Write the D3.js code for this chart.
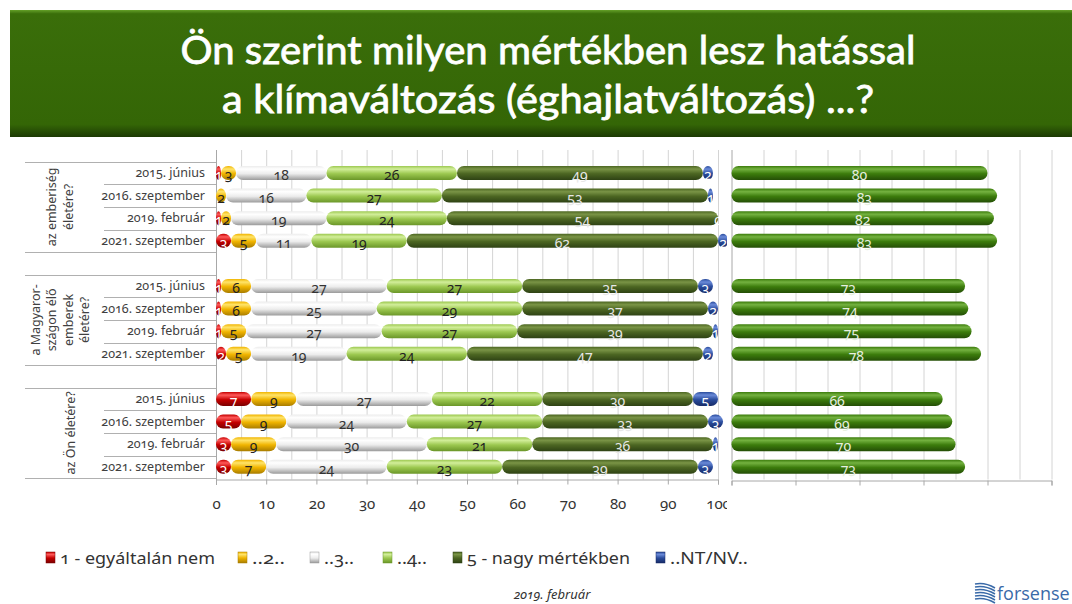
<!DOCTYPE html>
<html><head><meta charset="utf-8">
<script src="https://cdn.jsdelivr.net/npm/d3@7"></script>
<style>
html,body{margin:0;padding:0;background:#fff;}
svg{display:block;font-family:"Noto Sans","Open Sans",sans-serif;font-variant-numeric:oldstyle-nums;}
</style></head><body>
<svg id="c" width="1072" height="604"></svg>
<script>
const titleLines = ["Ön szerint milyen mértékben lesz hatással", "a klímaváltozás (éghajlatváltozás) ...?"];
const groupLabelLines = [["az emberiség","életére?"],["a Magyaror-","szágon élő","emberek","életére?"],["az Ön életére?"]];
const waves = ["2015. június","2016. szeptember","2019. február","2021. szeptember"];
const seriesNames = ["1 - egyáltalán nem","..2..","..3..","..4..","5 - nagy mértékben","..NT/NV.."];
const v1  = [1,0,1,3, 1,1,1,2, 7,5,3,3];
const v2  = [3,2,2,5, 6,6,5,5, 9,9,9,7];
const v3  = [18,16,19,11, 27,25,27,19, 27,24,30,24];
const v4  = [26,27,24,19, 27,29,27,24, 22,27,21,23];
const v5  = [49,53,54,62, 35,37,39,47, 30,33,36,39];
const vNT = [2,1,0,2, 3,2,1,2, 5,3,1,3];
const total45 = [80,83,82,83, 73,74,75,78, 66,69,70,73];
const xTicks = [0,10,20,30,40,50,60,70,80,90,100];
const footerText = "2019. február";

const seriesValues = [v1,v2,v3,v4,v5,vNT];
const colors = [
  {base:"#c40000",hi:"#ff5a5a",dark:"#7a0000",txt:"#ffffff"},
  {base:"#f0b400",hi:"#ffe46a",dark:"#a87c00",txt:"#222"},
  {base:"#ececec",hi:"#ffffff",dark:"#9a9a9a",txt:"#333"},
  {base:"#9cc850",hi:"#d2ee9a",dark:"#6a9628",txt:"#222"},
  {base:"#4c6622",hi:"#7a9446",dark:"#2e4214",txt:"#e8e8e8"},
  {base:"#2a4c9c",hi:"#6a8ad8",dark:"#162a66",txt:"#ffffff"}
];
const rightColor = {base:"#3c7c0c",hi:"#74b240",dark:"#244e06",txt:"#e8f0e0"};

const svg = d3.select("#c");
const defs = svg.append("defs");
function grad(id,c){
  const g = defs.append("linearGradient").attr("id",id).attr("x1",0).attr("y1",0).attr("x2",0).attr("y2",1);
  g.append("stop").attr("offset","0%").attr("stop-color",c.base);
  g.append("stop").attr("offset","22%").attr("stop-color",c.hi);
  g.append("stop").attr("offset","55%").attr("stop-color",c.base);
  g.append("stop").attr("offset","100%").attr("stop-color",c.dark);
}
colors.forEach((c,i)=>grad("g"+i,c));
grad("gr",rightColor);
const bg = defs.append("linearGradient").attr("id","banner").attr("x1",0).attr("y1",0).attr("x2",0).attr("y2",1);
bg.append("stop").attr("offset","0%").attr("stop-color","#64a028");
bg.append("stop").attr("offset","3%").attr("stop-color","#3a6e0a");
bg.append("stop").attr("offset","90%").attr("stop-color","#346606");
bg.append("stop").attr("offset","100%").attr("stop-color","#1c3a04");

// Banner
svg.append("rect").attr("x",10).attr("y",10).attr("width",1070).attr("height",127).attr("fill","url(#banner)");
const tl = [{t:titleLines[0],y:64,w:735},{t:titleLines[1],y:113,w:652}];
tl.forEach(d=>{
  svg.append("text").attr("x",548).attr("y",d.y).attr("text-anchor","middle")
    .attr("fill","#fff").attr("stroke","#fff").attr("stroke-width",0.8)
    .attr("font-family","Lato, 'Open Sans', sans-serif").attr("font-size",39)
    .attr("textLength",d.w).attr("lengthAdjust","spacingAndGlyphs")
    .style("font-variant-numeric","normal").text(d.t);
});

// Scales
const slots = d3.range(14).map(String);
const y = d3.scaleBand().domain(slots).range([161.7,478.1]).padding(0);
const slotOf = (k)=> String(Math.floor(k/4)*5 + (k%4));
const xL = d3.scaleLinear().domain([0,100]).range([216,718]);
const xR = d3.scaleLinear().domain([0,100]).range([731.5,1051.5]);
const barH = 14;
const gridTop = 150, axisY = 479.5;

// Left gridlines every 5
const gl = svg.append("g");
gl.selectAll("line").data(d3.range(5,101,5)).join("line")
  .attr("x1",d=>xL(d)+0.5).attr("x2",d=>xL(d)+0.5).attr("y1",gridTop).attr("y2",axisY)
  .attr("stroke","#d4d4d4").attr("stroke-width",1);

// Left axis bottom
const axL = svg.append("g").attr("transform",`translate(0,${axisY})`)
  .call(d3.axisBottom(xL).tickValues(xTicks).tickSize(5).tickPadding(14).tickFormat(d3.format("d")));
axL.select(".domain").attr("stroke","#a8a8a8");
axL.selectAll(".tick line").attr("stroke","#a8a8a8");
axL.selectAll(".tick text").attr("fill","#333").attr("font-size",15)
  .attr("font-family","'Noto Sans',sans-serif");

// vertical axis line
svg.append("line").attr("x1",216.5).attr("x2",216.5).attr("y1",gridTop).attr("y2",485).attr("stroke","#a8a8a8");

// Table lines
const tbl = svg.append("g").attr("stroke","#b0b0b0").attr("stroke-width",1);
for(let g=0; g<3; g++){
  const top = y(String(g*5)), bot = y(String(g*5+3))+y.bandwidth();
  tbl.append("line").attr("x1",25).attr("x2",216).attr("y1",Math.round(top)+0.5).attr("y2",Math.round(top)+0.5);
  tbl.append("line").attr("x1",25).attr("x2",216).attr("y1",Math.round(bot)+0.5).attr("y2",Math.round(bot)+0.5);
  for(let i=1;i<4;i++){
    const yy = Math.round(y(String(g*5+i)))+0.5;
    tbl.append("line").attr("x1",104).attr("x2",216).attr("y1",yy).attr("y2",yy);
  }
}

// Row labels
const rows = d3.range(12);
svg.append("g").selectAll("text").data(rows).join("text")
  .attr("x",205).attr("y",k=>y(slotOf(k))+y.bandwidth()/2+4)
  .attr("text-anchor","end").attr("fill","#404040").attr("font-size",12.5)
  .text(k=>waves[k%4]);

// Group labels (rotated)
groupLabelLines.forEach((lines,g)=>{
  const cy = (y(String(g*5)) + y(String(g*5+3))+y.bandwidth())/2;
  const n = lines.length;
  const cx = g===2 ? 70 : 60;
  const gg = svg.append("g").attr("transform",`translate(${cx},${cy}) rotate(-90)`);
  lines.forEach((ln,i)=>{
    gg.append("text").attr("x",0).attr("y",(i-(n-1)/2)*16.5+4.5).attr("text-anchor","middle")
      .attr("fill","#404040").attr("font-size",12.5).text(ln);
  });
});

// Stacked bars
const stackData = rows.map(k=>{
  let acc=0;
  return seriesValues.map((sv,s)=>{const o={k,s,v:sv[k],x0:acc}; acc+=sv[k]; return o;});
}).flat();
const bars = svg.append("g");
bars.selectAll("rect").data(stackData.filter(d=>d.v>0)).join("rect")
  .attr("x",d=>xL(d.x0)).attr("width",d=>xL(d.x0+d.v)-xL(d.x0))
  .attr("y",d=>y(slotOf(d.k))+(y.bandwidth()-barH)/2).attr("height",barH)
  .attr("rx",d=>Math.min(barH/2,(xL(d.x0+d.v)-xL(d.x0))/2)).attr("ry",barH/2)
  .attr("fill",d=>`url(#g${d.s})`);
bars.selectAll("text").data(stackData.filter(d=>d.v>0 || d.s===5)).join("text")
  .attr("x",d=>xL(d.x0+d.v/2)).attr("y",d=>y(slotOf(d.k))+y.bandwidth()/2+7)
  .attr("text-anchor","middle").attr("font-size",14).attr("fill",d=>colors[d.s].txt)
  .text(d=>d.v);

// Right panel background (clips "100")
svg.append("rect").attr("x",727).attr("y",gridTop).attr("width",345).attr("height",370).attr("fill","#fff");
const gr = svg.append("g");
gr.selectAll("line").data(d3.range(10,101,10)).join("line")
  .attr("x1",d=>xR(d)+0.5).attr("x2",d=>xR(d)+0.5).attr("y1",gridTop).attr("y2",axisY)
  .attr("stroke","#d4d4d4");
const axR = svg.append("g").attr("transform",`translate(0,${axisY+1})`)
  .call(d3.axisBottom(xR).tickValues([0,20,40,60,80,100]).tickSize(5).tickFormat(""));
axR.select(".domain").attr("stroke","#a8a8a8");
axR.selectAll(".tick line").attr("stroke","#a8a8a8");
svg.append("line").attr("x1",xR(0)+0.5).attr("x2",xR(0)+0.5).attr("y1",gridTop).attr("y2",axisY).attr("stroke","#a8a8a8");

const rb = svg.append("g");
rb.selectAll("rect").data(rows).join("rect")
  .attr("x",xR(0)).attr("width",k=>xR(total45[k])-xR(0))
  .attr("y",k=>y(slotOf(k))+(y.bandwidth()-barH)/2).attr("height",barH)
  .attr("rx",barH/2).attr("fill","url(#gr)");
rb.selectAll("text").data(rows).join("text")
  .attr("x",k=>xR(total45[k]/2)).attr("y",k=>y(slotOf(k))+y.bandwidth()/2+7)
  .attr("text-anchor","middle").attr("font-size",14).attr("fill",rightColor.txt)
  .text(k=>total45[k]);

// Legend
const legX = [46,238,310,383,453,656];
const legW = [155,33,30,30,163,78];
const lg = svg.append("g");
seriesNames.forEach((n,i)=>{
  lg.append("rect").attr("x",legX[i]).attr("y",552).attr("width",9).attr("height",11).attr("fill",`url(#g${i})`)
    .attr("stroke",colors[i].dark).attr("stroke-width",0.5);
  lg.append("text").attr("x",legX[i]+14).attr("y",564).attr("fill","#333").attr("font-size",16.5)
    .attr("textLength",legW[i]).attr("lengthAdjust","spacingAndGlyphs")
    .text(n);
});

// Footer
svg.append("text").attr("x",552).attr("y",599).attr("text-anchor","middle").attr("font-style","italic")
  .attr("fill","#333").attr("font-size",13).text(footerText);

// Logo
const logo = svg.append("g");
for(let i=0;i<6;i++){
  logo.append("path").attr("d",`M975,${584+i*3} Q985,${582+i*3} 995,${588+i*3}`).attr("stroke","#3a6aa8")
    .attr("stroke-width",1.6).attr("fill","none");
}
logo.append("text").attr("x",997).attr("y",600).attr("fill","#3a6aa8").attr("font-size",18)
  .attr("font-family","'Open Sans',sans-serif").text("forsense");
</script>
</body></html>
